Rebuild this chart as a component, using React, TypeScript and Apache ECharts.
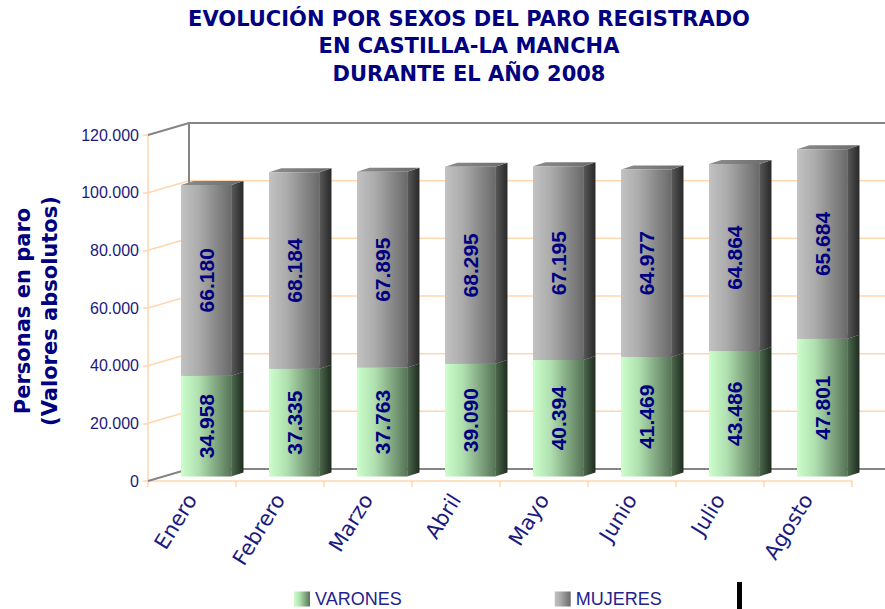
import React, { useEffect, useRef } from "react";
import * as echarts from "echarts";

const categories = ["Enero", "Febrero", "Marzo", "Abril", "Mayo", "Junio", "Julio", "Agosto"];
const varones = [34958, 37335, 37763, 39090, 40394, 41469, 43486, 47801];
const mujeres = [66180, 68184, 67895, 68295, 67195, 64977, 64864, 65684];
const seriesNames = ["VARONES", "MUJERES"];
const yMin = 0;
const yMax = 120000;
const yInterval = 20000;
const titleLines = ["EVOLUCIÓN POR SEXOS DEL PARO REGISTRADO", "EN CASTILLA-LA MANCHA", "DURANTE EL AÑO 2008"];
const yAxisTitle = ["Personas en paro", "(Valores absolutos)"];

const fmt = (v: number) => (v === 0 ? "0" : String(Math.round(v)).replace(/\B(?=(\d{3})+(?!\d))/g, "."));

const NAVY = "#000080";
const LABEL_NAVY = "#1A1A80";
const PEACH = "#FFD6AE";
const WALL_GRAY = "#858585";
const DEPTH_X = 41;
const DEPTH_Y = -12;

function lg(stops: [number, string][]) {
  return {
    type: "linear",
    x: 0,
    y: 0,
    x2: 1,
    y2: 0,
    colorStops: stops.map(([o, c]) => ({ offset: o, color: c })),
  };
}

const faces: Record<string, any> = {
  VARONES: {
    front: lg([[0, "#CCFFCC"], [0.35, "#B0E0B0"], [1, "#587558"]]),
    side: lg([[0, "#4E6A4E"], [1, "#1F2B1F"]]),
    top: lg([[0, "#8FB88F"], [1, "#6E8E6E"]]),
  },
  MUJERES: {
    front: lg([[0, "#C2C2C2"], [0.35, "#ACACAC"], [1, "#6A6A6A"]]),
    side: lg([[0, "#5A5A5A"], [1, "#282828"]]),
    top: lg([[0, "#8E8E8E"], [1, "#6A6A6A"]]),
  },
};

function makeBarRender(kind: string) {
  return (params: any, api: any) => {
    const i = api.value(0);
    const s = api.value(1);
    const e = api.value(2);
    const v = api.value(3);
    const bw = api.size([1, 0])[0];
    const pb = api.coord([i, s]);
    const pt = api.coord([i, e]);
    const fw = bw * 0.57;
    const x0 = pb[0] - bw * 0.125;
    const x1 = x0 + fw;
    const yb = pb[1] - 4.5;
    const yt = pt[1] - 4.5;
    const dx = bw * 0.14;
    const dy = -4;
    const f = faces[kind];
    return {
      type: "group",
      children: [
        {
          type: "polygon",
          shape: { points: [[x1, yb], [x1 + dx, yb + dy], [x1 + dx, yt + dy], [x1, yt]] },
          style: { fill: f.side },
        },
        {
          type: "polygon",
          shape: { points: [[x0, yt], [x0 + dx, yt + dy], [x1 + dx, yt + dy], [x1, yt]] },
          style: { fill: f.top },
        },
        {
          type: "rect",
          shape: { x: x0, y: yt, width: fw, height: yb - yt },
          style: { fill: f.front },
        },
        {
          type: "text",
          x: (x0 + x1) / 2,
          y: (yt + yb) / 2,
          rotation: Math.PI / 2,
          style: {
            text: fmt(v),
            fill: NAVY,
            font: 'bold 21px "Liberation Sans", Arial, sans-serif',
            align: "center",
            verticalAlign: "middle",
          },
        },
      ],
    };
  };
}

const wallsRender = (params: any, api: any) => {
  const cs = params.coordSys;
  const xL = cs.x;
  const W = api.getWidth();
  const children: any[] = [];
  const yTop = api.coord([0, yMax])[1];
  const yBot = api.coord([0, yMin])[1];
  for (let v = yMin + yInterval; v < yMax; v += yInterval) {
    const y = api.coord([0, v])[1];
    children.push({
      type: "polyline",
      shape: { points: [[xL, y], [xL + DEPTH_X, y + DEPTH_Y], [W, y + DEPTH_Y]] },
      style: { stroke: PEACH, lineWidth: 1.5, fill: null },
    });
  }
  for (const y of [yTop, yBot]) {
    children.push({
      type: "polyline",
      shape: { points: [[xL, y], [xL + DEPTH_X, y + DEPTH_Y], [W, y + DEPTH_Y]] },
      style: { stroke: WALL_GRAY, lineWidth: 2, fill: null },
    });
  }
  children.push({
    type: "line",
    shape: { x1: xL + DEPTH_X, y1: yTop + DEPTH_Y, x2: xL + DEPTH_X, y2: yBot + DEPTH_Y },
    style: { stroke: WALL_GRAY, lineWidth: 2 },
  });
  return { type: "group", children };
};

export default function App() {
  const ref = useRef<HTMLDivElement>(null);
  useEffect(() => {
    if (!ref.current) return;
    const chart = echarts.init(ref.current, null, { renderer: "svg" });
    const varData = categories.map((_, i) => [i, 0, varones[i], varones[i]]);
    const mujData = categories.map((_, i) => [i, varones[i], varones[i] + mujeres[i], mujeres[i]]);
    chart.setOption({
      animation: false,
      backgroundColor: "#FFFFFF",
      grid: { left: 148, right: 33, top: 135, bottom: 128, containLabel: false },
      xAxis: {
        type: "category",
        data: categories,
        boundaryGap: true,
        axisLine: { show: true, lineStyle: { color: PEACH, width: 1.5 } },
        axisTick: { show: true, length: 6, lineStyle: { color: PEACH, width: 1.5 } },
        axisLabel: {
          rotate: 58,
          margin: 15,
          color: LABEL_NAVY,
          fontSize: 21,
          fontFamily: '"DejaVu Sans", Verdana, sans-serif',
        },
        splitLine: { show: false },
      },
      yAxis: {
        type: "value",
        min: yMin,
        max: yMax,
        interval: yInterval,
        axisLine: { show: true, lineStyle: { color: PEACH, width: 1.5 } },
        axisTick: { show: true, length: 5, lineStyle: { color: PEACH, width: 1.5 } },
        axisLabel: {
          formatter: (v: number) => fmt(v),
          color: LABEL_NAVY,
          fontSize: 16,
          fontFamily: '"Liberation Sans", Arial, sans-serif',
          margin: 9,
        },
        splitLine: { show: false },
      },
      legend: {
        data: seriesNames,
        left: 294,
        top: 590,
        padding: 0,
        itemWidth: 16,
        itemHeight: 15,
        itemGap: 153,
        icon: "rect",
        textStyle: { color: "#22228C", fontSize: 18, fontFamily: '"Liberation Sans", Arial, sans-serif' },
      },
      graphic: [
        {
          type: "text",
          x: 469,
          y: 5,
          style: {
            text: titleLines.join("\n"),
            fill: NAVY,
            font: 'bold 21px "DejaVu Sans", Verdana, sans-serif',
            lineHeight: 27.5,
            align: "center",
            verticalAlign: "top",
          },
        },
        {
          type: "text",
          x: 36,
          y: 311,
          rotation: Math.PI / 2,
          style: {
            text: yAxisTitle.join("\n"),
            fill: NAVY,
            font: 'bold 21px "DejaVu Sans", Verdana, sans-serif',
            lineHeight: 27,
            align: "center",
            verticalAlign: "middle",
          },
        },
        {
          type: "rect",
          shape: { x: 737, y: 582, width: 5, height: 27 },
          style: { fill: "#000000" },
        },
      ],
      series: [
        {
          name: "walls",
          type: "custom",
          renderItem: wallsRender,
          data: [[0, 0]],
          silent: true,
          z: 1,
        },
        {
          name: seriesNames[0],
          type: "custom",
          renderItem: makeBarRender("VARONES"),
          data: varData,
          itemStyle: { color: faces.VARONES.front },
          z: 2,
        },
        {
          name: seriesNames[1],
          type: "custom",
          renderItem: makeBarRender("MUJERES"),
          data: mujData,
          itemStyle: { color: faces.MUJERES.front },
          z: 3,
        },
      ],
    });
    return () => chart.dispose();
  }, []);
  return <div ref={ref} style={{ position: "absolute", left: 0, top: 0, width: 885, height: 609 }} />;
}
